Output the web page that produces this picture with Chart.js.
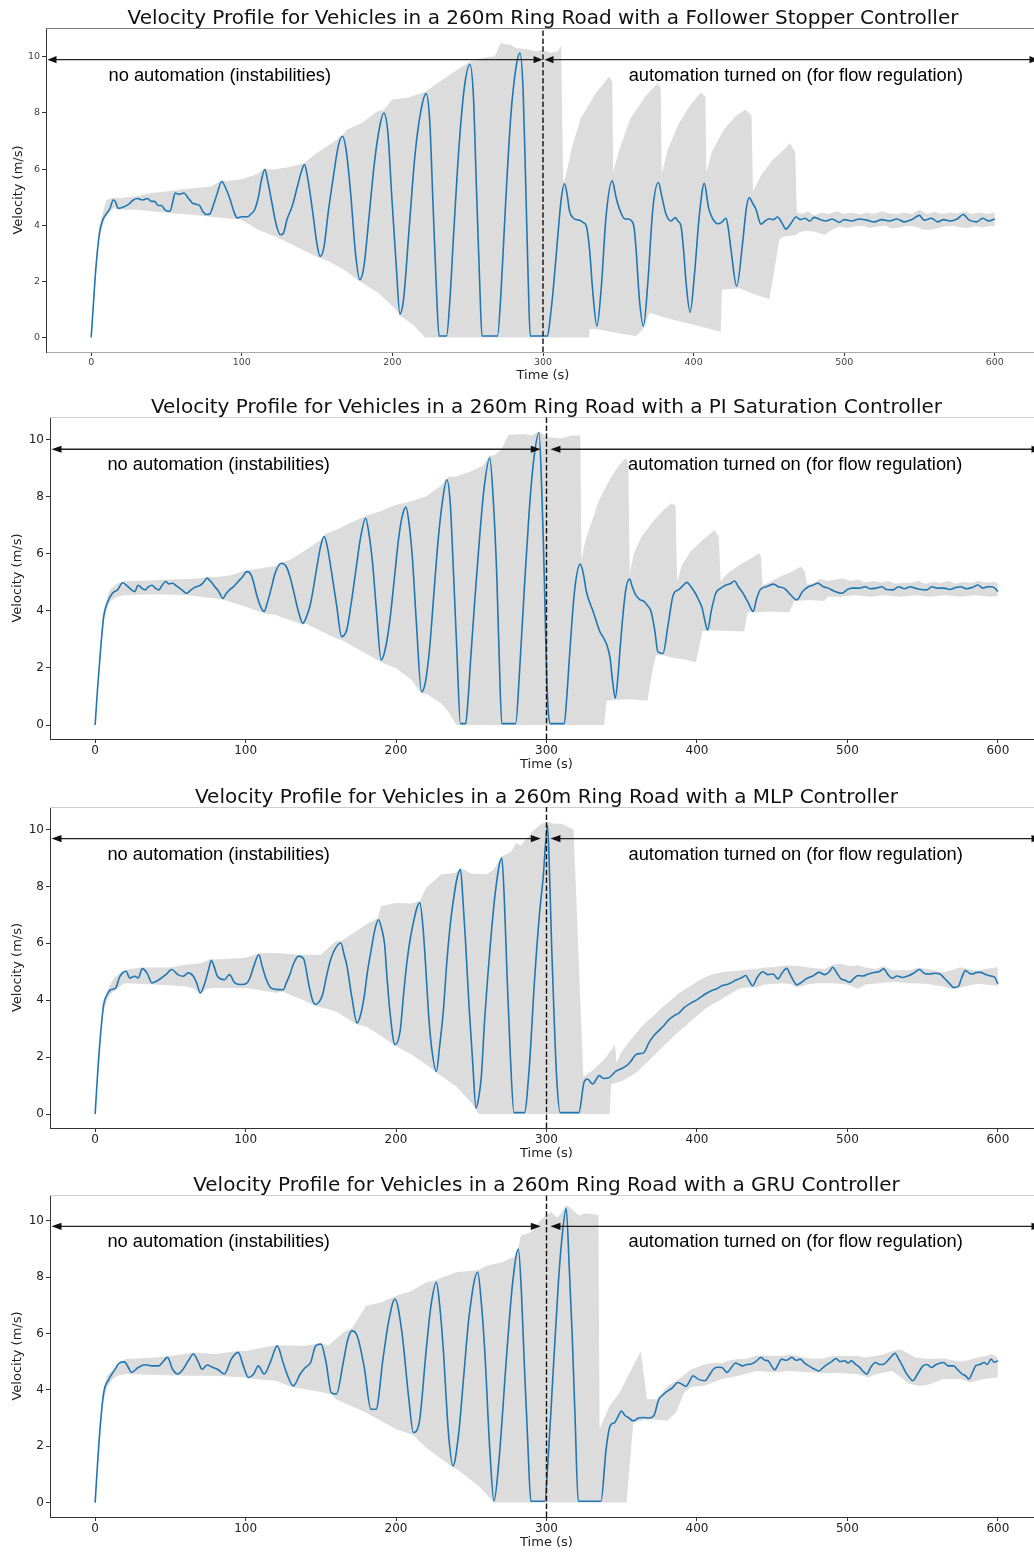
<!DOCTYPE html>
<html><head><meta charset="utf-8">
<script src="https://cdn.jsdelivr.net/npm/chart.js"></script>
<style>
html,body{margin:0;padding:0;background:#fff;width:1034px;height:1552px;overflow:hidden;position:relative;}
canvas{position:absolute;left:0;}
</style></head><body>
<canvas id="c1" width="1050" height="389" style="top:0px;width:1050px;height:389px"></canvas>
<canvas id="c2" width="1050" height="389" style="top:389px;width:1050px;height:389px"></canvas>
<canvas id="c3" width="1050" height="389" style="top:778px;width:1050px;height:389px"></canvas>
<canvas id="c4" width="1050" height="386" style="top:1166px;width:1050px;height:386px"></canvas>
<script>
const xTicks=[0,100,200,300,400,500,600];
const yTicks=[0,2,4,6,8,10];
const titles=[
"Velocity Profile for Vehicles in a 260m Ring Road with a Follower Stopper Controller",
"Velocity Profile for Vehicles in a 260m Ring Road with a PI Saturation Controller",
"Velocity Profile for Vehicles in a 260m Ring Road with a MLP Controller",
"Velocity Profile for Vehicles in a 260m Ring Road with a GRU Controller"];
const noAutoLabel="no automation (instabilities)";
const autoLabel="automation turned on (for flow regulation)";
const xLabel="Time (s)";
const yLabel="Velocity (m/s)";

// ---- Follower Stopper ----
const fsMean=[[0,0],[1.5,1.2],[3,2.4],[5.5,3.7],[7.8,4.2],[10,4.4],[12.5,4.6],[14.6,4.9],[16,4.85],[18,4.6],[21.5,4.65],[25,4.75],[28,4.9],[30.7,4.95],[34,4.9],[37.5,4.95],[40,4.85],[42,4.85],[44.5,4.7],[46.7,4.7],[49,4.55],[52.4,4.5],[54,4.8],[55.8,5.15],[58,5.1],[61.6,5.15],[64,5.0],[67,4.8],[69.5,4.75],[72,4.7],[74,4.5],[76.4,4.38],[78.7,4.4],[81,4.7],[83.5,5.1],[86.7,5.56],[89.5,5.3],[92.4,4.9],[95,4.45],[97,4.26],[100,4.3],[103.9,4.3],[106,4.4],[108.5,4.55],[111,5.0],[113,5.6],[115.3,5.98],[117.5,5.5],[120,4.8],[122.5,4.1],[125.6,3.66],[127.5,3.7],[130,4.2],[133.6,4.7],[137,5.4],[139.5,5.9],[141.6,6.16],[144,5.6],[147,4.5],[150,3.3],[152,2.89],[154.5,3.2],[157.5,4.5],[161,5.8],[164,6.8],[166.8,7.17],[169.5,6.6],[172.5,5.0],[175.5,3.0],[178.3,2.06],[181,2.5],[184.5,4.3],[188,6.2],[191.5,7.5],[194.3,8.0],[197,7.3],[199.6,5.0],[202.5,2.6],[205,0.83],[207.5,1.4],[211,3.8],[215,6.5],[219,8.1],[222.4,8.69],[224.8,7.7],[226.8,5.0],[229,2.0],[231,0.05],[236,0.05],[238,1.2],[241,4.0],[244.5,7.0],[248,9.0],[251.5,9.73],[253.8,8.6],[255.7,5.5],[257.8,2.2],[259.5,0.05],[269.8,0.05],[272,1.5],[275,4.6],[278.5,7.8],[282,9.6],[284.7,10.14],[286.8,8.8],[288.5,5.5],[290.2,2.0],[291.5,0.05],[303,0.05],[304.8,0.7],[306.6,1.6],[309.5,3.4],[312.1,4.93],[314.3,5.48],[316,5.1],[317.6,4.51],[319.8,4.27],[322,4.2],[324.3,4.18],[326.5,4.1],[328.7,3.98],[330.9,3.14],[333.1,1.6],[335.8,0.4],[338.6,1.71],[341.9,4.33],[345.9,5.58],[348.5,5.0],[350.8,4.57],[354.1,4.23],[356,4.22],[358.5,4.17],[360.5,3.9],[361.8,3.14],[364,1.36],[366.7,0.4],[369.6,1.95],[372.9,4.57],[376.6,5.52],[379,5.0],[381.7,4.39],[385,4.15],[387.9,4.27],[389.5,4.15],[391.6,3.98],[393.5,3.0],[395,1.95],[397.7,0.9],[400.5,2.2],[403.8,4.35],[407.1,5.49],[410,4.6],[412.7,4.23],[416,4.05],[418.5,4.1],[421.5,4.25],[423,3.9],[424.8,3.14],[428.6,1.83],[432.6,3.4],[435,4.6],[437,4.99],[439,4.8],[441.4,4.57],[444.7,4.04],[447.5,4.15],[450.2,4.23],[453,4.2],[455.7,4.29],[458.5,4.1],[461.3,3.86],[464.5,4.05],[467.9,4.29],[471,4.2],[474,4.25],[477,4.15],[480,4.28],[484,4.2],[488,4.15],[492,4.22],[496.7,4.1],[500,4.2],[505,4.15],[510,4.22],[515,4.18],[520,4.12],[525,4.2],[530,4.15],[535,4.22],[540,4.12],[545,4.2],[550,4.35],[553,4.18],[558,4.25],[562,4.12],[566,4.2],[570,4.15],[575,4.22],[579,4.38],[583,4.18],[588,4.12],[592,4.25],[596,4.15],[600,4.22]];
const fsUpper=[[0,0],[5,3.9],[8,4.5],[10,4.9],[14,4.97],[20,4.97],[30,5.03],[40,5.15],[50,5.2],[60,5.27],[70,5.33],[80,5.39],[87,5.6],[90,5.58],[100,5.64],[110,5.82],[115,6.02],[120,5.98],[130,6.06],[141,6.2],[150,6.58],[160,6.93],[167,7.22],[170,7.41],[180,7.65],[190,8.06],[194,8.1],[200,8.48],[210,8.54],[222,8.76],[230,9.07],[240,9.43],[251,9.82],[260,9.96],[268,10.02],[272,10.5],[275,10.45],[278,10.44],[282,10.32],[285,10.3],[290,10.26],[295,10.2],[300,10.25],[305,10.15],[310,10.2],[312,10.4],[313.4,5.6],[314.3,5.55],[318.8,6.7],[325,7.8],[335,8.7],[344,9.3],[346,9.1],[346.6,5.9],[350.7,6.7],[358,7.8],[368,8.6],[376,9.05],[378.2,8.9],[378.8,5.83],[382.8,6.7],[390,7.6],[398,8.3],[404.7,8.72],[407.8,8.6],[408.5,5.9],[412,6.6],[420,7.4],[428,7.9],[434.5,8.12],[438.5,7.9],[439.4,5.2],[445,5.8],[452,6.3],[460,6.7],[464,6.93],[467.5,6.6],[468.5,4.45],[472,4.4],[476,4.5],[480,4.35],[485,4.45],[490,4.4],[495,4.5],[500,4.4],[505,4.45],[510,4.38],[515,4.45],[520,4.4],[525,4.5],[530,4.42],[535,4.4],[540,4.45],[545,4.4],[550,4.55],[555,4.4],[560,4.48],[565,4.4],[570,4.45],[575,4.42],[580,4.5],[585,4.4],[590,4.45],[595,4.4],[600,4.45]];
const fsLower=[[0,0],[5,3.5],[8,4.1],[10,4.3],[14.6,4.6],[20,4.55],[30.7,4.55],[40,4.5],[53.5,4.43],[65,4.38],[76.4,4.32],[90,4.25],[99.3,4.2],[110.8,3.84],[122.2,3.6],[133.6,3.3],[145,3.0],[152,2.82],[156.5,2.74],[168,2.41],[178.3,2.0],[190.8,1.58],[202.3,0.99],[205,0.78],[213.7,0.45],[221.7,0],[330.5,0],[331.2,0.3],[335,0.3],[345,0.2],[355,0.1],[362,0.05],[366.5,0.3],[370.7,0.88],[385,0.65],[400,0.45],[418,0.2],[418.8,1.7],[430.4,1.75],[440,1.55],[450.3,1.36],[453,2.2],[456.9,3.5],[460,3.6],[468,3.65],[470,3.75],[475,3.8],[480,3.78],[487,3.65],[492,3.85],[497,3.95],[502,3.9],[507,3.95],[512,3.98],[517,3.9],[522,3.95],[527,3.98],[532,3.88],[537,3.92],[542,3.98],[547,3.95],[552,3.85],[557,3.84],[562,3.9],[567,3.95],[572,3.98],[577,3.92],[582,3.9],[587,3.96],[592,3.92],[597,3.98],[600,3.95]];

// ---- PI Saturation ----
const piMean=[[0,0],[1.5,1.2],[3.4,2.5],[5.7,3.8],[8,4.27],[11.5,4.62],[14.9,4.74],[18.3,4.99],[21.8,4.85],[24,4.75],[26.3,4.68],[28.6,4.9],[31,4.8],[33.2,4.74],[35.5,4.85],[37.8,4.9],[40,4.8],[42.4,4.74],[44.5,4.9],[47,5.03],[49,4.95],[51.5,4.97],[54,4.88],[56.1,4.8],[58.5,4.7],[60.7,4.62],[63,4.7],[65.3,4.8],[67.5,4.85],[69.9,4.9],[72,5.0],[74.5,5.15],[76,5.08],[77.9,4.97],[79.5,4.85],[81.3,4.74],[83,4.6],[84.8,4.44],[87,4.6],[89.3,4.74],[92,4.85],[95.1,5.03],[98,5.2],[100.8,5.38],[102.5,5.35],[104.2,5.2],[107.7,4.5],[110,4.15],[112.3,3.98],[114.5,4.3],[116.8,4.74],[119.5,5.3],[123.7,5.67],[127.1,5.55],[129.5,5.2],[131.7,4.74],[135,4.0],[138.1,3.57],[140.5,3.8],[143.2,4.27],[147.8,5.67],[150,6.3],[152.3,6.61],[154.5,6.2],[156.9,5.44],[160.5,4.2],[163.8,3.1],[167.2,3.33],[170,4.2],[173,5.32],[176.5,6.6],[179.8,7.25],[182,6.7],[184.4,5.67],[187,4.0],[190.1,2.28],[193,2.7],[195.9,3.68],[199,5.2],[201.6,6.49],[204,7.3],[206.6,7.64],[208.8,7.0],[210.8,5.9],[213.5,3.6],[216.9,1.17],[219.5,1.5],[222.2,2.63],[225,4.5],[228,6.49],[231,7.9],[233.7,8.6],[236,7.8],[238.3,5.2],[240.5,2.5],[242.8,0.05],[246.3,0.05],[248,1.0],[249.7,2.4],[252.5,4.5],[255.4,6.49],[258.5,8.3],[262.3,9.36],[264.5,8.0],[266.9,5.32],[268.5,2.5],[270.3,0.05],[279.5,0.05],[282,1.8],[285.2,4.74],[288.5,7.5],[291.5,9.3],[295,10.25],[297,8.0],[298.2,5.85],[300.5,1.17],[302.7,0.05],[311.8,0.05],[313.5,1.0],[315.2,2.34],[318.6,4.68],[322.4,5.64],[324.5,5.3],[326.5,4.68],[331,3.98],[335.5,3.27],[338,3.05],[340.1,2.81],[342.3,2.34],[344,1.5],[345.7,0.94],[347.5,1.7],[349.1,2.81],[352.5,4.68],[355.2,5.12],[357,4.85],[359.3,4.56],[362,4.4],[365,4.33],[367,4.2],[369.5,3.98],[372,3.3],[374,2.57],[377.4,2.51],[380.8,3.51],[384.2,4.56],[387.6,4.74],[390,4.85],[393.3,5.0],[396,4.85],[398.9,4.62],[401,4.4],[403.5,4.09],[405.5,3.6],[407.1,3.33],[409.5,4.0],[412.5,4.62],[416,4.8],[419.3,4.91],[422,4.95],[425,5.05],[427.5,4.85],[430.6,4.62],[434,4.3],[437.4,3.98],[439.5,4.4],[442,4.74],[446,4.85],[451,4.94],[454,4.85],[457.8,4.8],[460,4.7],[462.3,4.56],[466.4,4.39],[470.2,4.68],[474,4.85],[477,4.9],[480.4,4.97],[484,4.85],[487.2,4.8],[491,4.7],[496.3,4.62],[500,4.75],[503,4.8],[507.6,4.8],[512,4.85],[515,4.78],[518.9,4.8],[523,4.85],[526,4.75],[530.2,4.74],[534,4.85],[538,4.78],[541.6,4.85],[545,4.8],[549,4.75],[552.9,4.74],[556,4.85],[560,4.8],[564.2,4.8],[568,4.75],[572,4.82],[575.5,4.85],[579,4.78],[583,4.82],[586.8,4.91],[590,4.8],[593,4.85],[595.9,4.85],[598,4.8],[600,4.68]];
const piUpper=[[0,0],[5,3.9],[8,4.5],[10,4.74],[15,4.97],[20,5.05],[30,5.06],[40,5.08],[50,5.1],[60,5.12],[70,5.15],[75,5.2],[80,5.18],[90,5.25],[100,5.42],[110,5.5],[120,5.58],[125,5.72],[130,5.8],[140,6.14],[150,6.5],[153,6.7],[160,6.84],[170,7.1],[180,7.33],[190,7.5],[200,7.72],[207,7.8],[210,7.85],[220,8.01],[230,8.4],[235,8.7],[240,8.71],[250,8.9],[258,9.1],[262,9.45],[265,9.45],[270,9.65],[273,10.0],[275,10.18],[285,10.2],[290,10.15],[295,10.3],[300,10.1],[310,10.05],[316,10.15],[322.5,10.15],[323.2,5.8],[326,6.5],[329,6.96],[335,7.9],[342,8.6],[348,9.1],[352.5,9.36],[354.4,9.2],[355.3,5.3],[358,6.0],[363,6.6],[371.6,7.19],[378,7.55],[383,7.78],[385.8,7.7],[386.8,5.03],[390,5.6],[396,6.1],[404,6.5],[411.7,6.84],[414.5,6.6],[415.8,5.03],[420,5.3],[428,5.6],[436,5.85],[441.4,6.02],[442.6,5.9],[443.6,4.9],[448,5.0],[455,5.2],[462,5.35],[469.1,5.56],[471.5,5.4],[473.4,4.92],[478,5.0],[482,5.12],[487,5.05],[492,5.1],[497,5.15],[502,5.05],[507,5.1],[512,5.0],[517,5.05],[522,5.0],[527,5.05],[532,4.95],[537,5.0],[542,4.98],[547,5.05],[552,4.95],[557,5.02],[562,4.98],[567,5.05],[572,4.95],[577,5.02],[582,4.98],[587,5.05],[592,5.0],[597,5.02],[600,4.98]];
const piLower=[[0,0],[5,3.5],[8,4.1],[10,4.35],[15,4.5],[20,4.56],[40,4.58],[60,4.56],[80,4.44],[84.8,4.4],[100,4.15],[112,3.92],[120,3.86],[138,3.52],[140,3.55],[150,3.3],[160,3.04],[164,2.98],[170,2.8],[180,2.51],[190,2.2],[200,1.99],[210,1.6],[217,1.1],[220,1.1],[230,0.76],[235,0.45],[240,0],[338.3,0],[340,0.85],[345,0.88],[355,0.9],[367.1,0.85],[370,1.8],[372.7,2.45],[377,2.45],[385,2.35],[392,2.3],[399.3,2.2],[403.7,3.3],[410,3.32],[420,3.3],[431.4,3.28],[433.6,3.95],[440,3.95],[450,3.98],[461.3,3.95],[464.7,4.35],[475,4.38],[484.6,4.35],[487,4.5],[495,4.5],[505,4.55],[515,4.5],[525,4.55],[535,4.5],[545,4.55],[555,4.5],[565,4.55],[575,4.5],[585,4.55],[595,4.5],[600,4.52]];

// ---- MLP ----
const mlpMean=[[0,0],[1.5,1.3],[3.4,2.67],[5.7,3.85],[8,4.2],[10.3,4.37],[13.7,4.43],[16,4.78],[18.3,4.96],[20.6,5.02],[22.9,4.78],[26.3,4.84],[28.6,4.78],[31.4,5.11],[34.4,4.96],[37.8,4.61],[42.4,4.72],[47,4.9],[50.9,5.08],[55,4.9],[58.4,4.84],[61.9,4.96],[65.3,4.84],[67.5,4.6],[69.9,4.26],[73.3,4.67],[75.5,5.1],[77.2,5.39],[79,5.2],[81.3,4.84],[85.9,4.72],[89.3,4.9],[92.8,4.61],[97.4,4.55],[100.8,4.6],[103,4.8],[105.4,5.19],[108.8,5.6],[111,5.2],[113.4,4.78],[116.8,4.43],[120.3,4.38],[124.9,4.37],[127,4.6],[129.4,4.9],[132,5.3],[135.2,5.55],[138.6,5.45],[142,4.55],[144.5,4.0],[146.6,3.85],[149,3.95],[151.2,4.2],[154,4.9],[156.9,5.49],[160,5.85],[163.3,6.01],[165.5,5.6],[167.2,5.25],[170.7,4.08],[174.1,3.2],[176.5,3.5],[178.7,4.08],[181,5.0],[183.3,5.72],[186,6.5],[188.3,6.83],[190.5,6.5],[192.4,5.96],[194,4.8],[195.9,3.61],[199.3,2.44],[202.7,2.91],[205,4.2],[207.3,5.37],[211,6.6],[215.8,7.42],[218,6.5],[219.9,5.02],[221.5,3.6],[223.4,2.44],[226.8,1.5],[229,2.4],[231.4,3.61],[234,5.5],[237.1,7.13],[242.8,8.59],[244.5,7.5],[246.3,5.96],[248.5,3.8],[250.9,1.85],[253.2,0.21],[255,0.6],[256.6,1.27],[259,3.4],[262.3,5.72],[266,7.8],[270.3,9.0],[272,7.5],[273.7,5.0],[276,2.0],[278.4,0.05],[285.3,0.05],[288.5,1.6],[292.1,4.75],[295.5,7.13],[297.7,8.26],[300.7,10.14],[302,8.5],[303.4,5.92],[305,3.5],[306.8,1.23],[309.1,0.05],[321.5,0.05],[324.9,1.11],[327.2,1.23],[330.6,1.06],[335.1,1.35],[338,1.25],[341.9,1.29],[344,1.4],[346.4,1.52],[350,1.6],[353.2,1.7],[356,1.85],[360,2.11],[364.5,2.15],[368,2.5],[371.3,2.75],[375,2.95],[378.1,3.11],[381,3.3],[384.9,3.46],[388,3.55],[391.7,3.75],[396,3.9],[400.7,4.04],[405,4.2],[409.8,4.34],[413,4.4],[416.6,4.51],[420,4.55],[423.4,4.63],[425.5,4.7],[427.9,4.75],[430,4.8],[432.4,4.87],[434.5,4.7],[437,4.51],[440,4.8],[443.8,5.0],[447,4.9],[450.6,4.92],[453.9,4.75],[456.5,4.95],[459.6,5.12],[462,4.9],[464,4.7],[466.4,4.54],[470,4.65],[473.2,4.77],[477,4.85],[481.1,4.98],[485,4.9],[488,5.0],[490.2,5.16],[493,4.95],[495.8,4.75],[498.5,4.7],[501.5,4.63],[504,4.75],[507.2,4.87],[510,4.85],[513.9,4.92],[518.5,4.98],[521,5.0],[524.1,5.1],[527,4.9],[529.8,4.77],[533,4.85],[536.6,4.8],[541.1,4.87],[544,4.95],[547.9,5.08],[551,4.95],[554.7,4.92],[558,4.95],[561.5,4.92],[564,4.8],[566,4.69],[568.5,4.55],[570.5,4.45],[573.9,4.5],[576,4.8],[578.5,5.04],[581,4.95],[583,4.92],[586,4.98],[588.7,4.98],[592,4.9],[595.4,4.85],[598,4.8],[600,4.57]];
const mlpUpper=[[0,0],[5,3.9],[8,4.35],[12.6,4.78],[17.2,4.98],[20,5.06],[30,5.15],[50,5.15],[60,5.25],[70,5.3],[77,5.45],[80,5.43],[100,5.49],[109,5.65],[120,5.66],[135,5.6],[140,5.6],[150,5.6],[160,6.07],[164,6.1],[170,6.3],[180,6.66],[185,6.8],[188,6.9],[190,7.3],[200,7.42],[210,7.4],[216,7.5],[220,7.95],[230,8.42],[240,8.48],[243,8.65],[250,8.45],[260,8.42],[265,8.6],[270,9.05],[276.2,9.2],[280,9.53],[283,9.44],[290,9.9],[296.6,10.2],[301,10.26],[305,10.2],[310.2,10.2],[314,10.1],[318,10.0],[324.5,1.3],[330,1.5],[338,1.9],[344,2.3],[345.5,2.45],[346.5,1.8],[350,2.2],[355,2.55],[360,2.87],[365.5,3.2],[371.3,3.46],[377,3.75],[382.6,3.99],[388,4.25],[394,4.45],[400,4.65],[405.3,4.81],[410,4.9],[416.6,4.98],[422,5.02],[427.9,5.04],[433,5.08],[439.2,5.1],[445,5.15],[450.6,5.16],[456,5.2],[461.9,5.22],[467,5.2],[473.2,5.16],[478,5.12],[484.5,5.1],[490,5.25],[495.8,5.28],[501,5.2],[507.2,5.22],[512,5.15],[518.5,5.1],[524,5.2],[529.8,5.05],[535,5.05],[541.1,5.05],[547,5.15],[552.5,5.1],[558,5.05],[563.8,4.98],[569,5.05],[575.1,5.16],[580,5.1],[586.4,5.04],[592,5.1],[600,5.16]];
const mlpLower=[[0,0],[5,3.5],[8,4.0],[10,4.2],[12,4.3],[15,4.4],[18,4.55],[20,4.6],[40,4.55],[60,4.49],[66,4.4],[69.9,4.2],[74,4.4],[80,4.43],[100,4.43],[120,4.26],[124.9,4.3],[140,3.96],[146.6,3.8],[160,3.61],[174,3.15],[180,3.08],[190,2.75],[199.3,2.4],[210,2.1],[220,1.74],[226.8,1.45],[230,1.35],[240,0.97],[250,0.4],[253.2,0.15],[255,0],[341.9,0],[343,1.05],[350,1.15],[355,1.3],[360,1.47],[365.5,1.75],[371.3,2.05],[377,2.35],[382.6,2.64],[388,2.9],[394,3.17],[400,3.45],[405.3,3.69],[410,3.85],[416.6,4.04],[422,4.22],[427.9,4.4],[433,4.45],[439.2,4.45],[445,4.55],[450.6,4.57],[456,4.6],[461.9,4.57],[466.4,4.45],[473.2,4.55],[480,4.6],[490,4.6],[500,4.55],[507.2,4.4],[512,4.55],[518.5,4.58],[529.8,4.65],[541.1,4.6],[552.5,4.58],[563.8,4.48],[570.5,4.38],[575,4.45],[586.4,4.58],[600,4.51]];

// ---- GRU ----
const gruMean=[[0,0],[1.5,1.3],[3.4,2.72],[5.7,3.9],[9.2,4.38],[12.6,4.67],[16,4.95],[19.5,4.99],[22,4.8],[24.1,4.62],[28.6,4.79],[33.2,4.89],[37.8,4.85],[42.4,4.85],[44.7,4.97],[48.1,5.15],[51.5,4.73],[55,4.56],[58.4,4.73],[61.9,5.03],[65.3,5.27],[68.7,4.97],[71,4.73],[74.5,4.88],[77.9,4.8],[81.3,4.73],[85.9,4.56],[90.5,5.09],[95.1,5.33],[98.5,4.85],[101.9,4.44],[105.4,4.56],[108.4,4.85],[112.3,4.56],[116.8,5.03],[121,5.56],[124.9,4.97],[127.1,4.62],[131.7,4.14],[136.3,4.56],[139.7,4.79],[143.2,4.97],[146.6,5.56],[150.1,5.62],[153.5,4.97],[156.9,3.9],[160.4,3.85],[164.9,4.97],[168,5.8],[170.7,6.09],[174.1,5.92],[178.7,4.85],[183.3,3.31],[186.7,3.31],[191.3,5.09],[195,6.4],[199.3,7.22],[203.9,6.04],[208.5,3.67],[211.5,2.49],[215.4,2.84],[219.9,5.33],[223,6.9],[226.8,7.81],[229,7.0],[231.4,5.44],[234.8,2.49],[237.8,1.3],[241.7,2.49],[245,4.5],[248.6,6.63],[254.3,8.17],[256.5,7.2],[258.9,5.44],[262.3,1.89],[265.1,0.06],[268.1,1.3],[273.8,5.44],[277.5,7.8],[281.3,8.99],[283.3,7.5],[285.3,4.85],[287.5,2.2],[289.6,0.05],[298.9,0.05],[301,1.5],[303.4,3.67],[307.9,7.81],[310.5,9.5],[313.1,10.44],[315,8.5],[317,6.04],[319,3.0],[321.1,0.05],[336.2,0.05],[339.6,1.89],[342.3,2.72],[345.3,2.84],[347.5,3.05],[349.8,3.25],[352,3.1],[354.3,3.02],[357.7,2.9],[361,3.0],[364.5,3.02],[368,3.0],[371.3,3.08],[374.7,3.67],[377,3.8],[379.2,3.91],[383.8,4.08],[387.2,4.26],[390,4.2],[392.8,4.12],[395,4.3],[397.4,4.5],[400.7,4.38],[405.3,4.32],[408,4.5],[410.9,4.73],[413.5,4.8],[416.6,4.79],[420,4.62],[423,4.8],[425.6,4.95],[428,4.9],[430.2,4.85],[433,4.9],[435.8,4.91],[439,5.0],[442.6,5.15],[445,5.05],[447.2,5.03],[449.5,4.85],[451.7,4.71],[454,4.9],[456.2,5.09],[459.5,5.05],[463,5.15],[466,5.05],[468.7,5.09],[471.5,4.95],[474.3,4.85],[477.5,4.75],[481.1,4.67],[484,4.8],[486.8,4.91],[489.5,5.0],[492.4,5.11],[495,5.0],[498.1,5.03],[500.5,4.95],[502.6,5.03],[505.5,4.9],[508.3,4.79],[510.5,4.65],[512.8,4.56],[515.5,4.8],[518.5,4.97],[521.5,4.9],[524.1,4.91],[527,5.05],[529.5,5.2],[531.6,5.3],[534,5.1],[536.6,4.85],[539,4.6],[541,4.45],[543.4,4.32],[546.5,4.55],[550.2,4.85],[553,4.9],[555.8,4.79],[559,4.9],[563.8,4.97],[567,4.85],[570.5,4.85],[573.5,4.7],[576.2,4.56],[578.5,4.5],[580.7,4.38],[583,4.6],[585.2,4.85],[588,4.9],[590.9,4.97],[593,4.9],[595.5,5.09],[597.5,4.98],[600,5.03]];
const gruUpper=[[0,0],[5,3.9],[8,4.5],[12,4.75],[15,4.85],[20,5.09],[40,5.15],[50,5.2],[60,5.27],[65,5.32],[80,5.27],[95,5.38],[100,5.38],[120,5.58],[140,5.56],[150,5.66],[155,5.56],[160,5.8],[165,6.04],[171,6.2],[180,6.98],[190,7.1],[200,7.34],[210,7.5],[220,7.81],[227,7.9],[240,8.17],[255,8.25],[260,8.4],[270,8.52],[280,8.76],[283,9.47],[289.8,9.59],[296.6,10.06],[300,10.2],[303.4,10.3],[307,10.1],[310.2,10.3],[313,10.55],[314.7,10.5],[321.5,10.18],[326,10.25],[330.6,10.24],[334.5,10.2],[335.3,2.6],[341.9,3.43],[348.7,3.91],[355.5,4.62],[362.7,5.38],[366.8,3.67],[373.6,3.67],[380.4,4.14],[389.4,4.44],[396.2,4.73],[405.3,4.91],[410,4.95],[416.6,4.95],[422,5.05],[427.9,5.09],[433,5.1],[439.2,5.2],[445,5.22],[450.6,5.21],[456,5.2],[461.9,5.25],[467,5.2],[473.2,5.12],[478,5.1],[484.5,5.12],[490,5.2],[495.8,5.2],[501,5.2],[507.2,5.2],[512,5.15],[518.5,5.2],[524,5.25],[529.8,5.38],[535.4,5.44],[540,5.3],[545,5.15],[552.4,5.1],[558,5.1],[563.8,5.12],[570,5.05],[575,5.0],[580,5.05],[586.4,5.15],[592,5.2],[596,5.27],[600,5.15]];
const gruLower=[[0,0],[5,3.5],[8,4.1],[12,4.4],[15,4.5],[20,4.56],[40,4.53],[60,4.5],[80,4.5],[100,4.44],[101.9,4.4],[120,4.32],[131.7,4.08],[140,4.02],[156.9,3.85],[160,3.67],[180,3.2],[183.3,3.1],[200,2.6],[211.5,2.4],[220,1.95],[237.8,1.25],[240,1.2],[255,0.59],[265,0],[353.2,0],[357.7,2.84],[365,2.95],[371.3,2.95],[380.4,2.9],[386,3.2],[391.7,3.91],[396,4.1],[405.3,4.15],[416.6,4.38],[427.9,4.5],[439.2,4.67],[450.6,4.62],[461.9,4.67],[473.2,4.62],[484.5,4.6],[495.8,4.6],[507.2,4.55],[513.9,4.44],[518.5,4.55],[529.8,4.67],[541.1,4.22],[547.9,4.14],[554.7,4.2],[563.8,4.38],[575.1,4.38],[581.8,4.26],[590,4.38],[600,4.44]];

function drawArrow(ctx, x1, x2, y, head, hw){
  ctx.beginPath(); ctx.moveTo(x1+head*0.6, y); ctx.lineTo(x2-head*0.6, y); ctx.stroke();
  ctx.beginPath(); ctx.moveTo(x1, y); ctx.lineTo(x1+head, y-hw); ctx.lineTo(x1+head, y+hw); ctx.closePath(); ctx.fill();
  ctx.beginPath(); ctx.moveTo(x2, y); ctx.lineTo(x2-head, y-hw); ctx.lineTo(x2-head, y+hw); ctx.closePath(); ctx.fill();
}

const overlayPlugin = {
  id: 'overlay',
  afterDraw(chart, args, o){
    const ctx = chart.ctx, a = chart.chartArea, xs = chart.scales.x, ys = chart.scales.y;
    ctx.save();
    ctx.strokeStyle = o.topSpine; ctx.lineWidth = 1;
    ctx.beginPath(); ctx.moveTo(a.left, Math.round(a.top)+0.5); ctx.lineTo(a.right, Math.round(a.top)+0.5); ctx.stroke();
    const xd = xs.getPixelForValue(300);
    ctx.strokeStyle = '#111'; ctx.lineWidth = 1.4; ctx.setLineDash([5.5, 2.4]);
    ctx.beginPath(); ctx.moveTo(xd, a.bottom); ctx.lineTo(xd, a.top); ctx.stroke();
    ctx.setLineDash([]);
    const ay = ys.getPixelForValue(o.arrowY);
    ctx.strokeStyle = '#222'; ctx.fillStyle = '#111'; ctx.lineWidth = 1.3;
    drawArrow(ctx, xs.getPixelForValue(-29), xs.getPixelForValue(o.leftTip), ay, o.head, 3.6);
    drawArrow(ctx, xs.getPixelForValue(o.rightTip), xs.getPixelForValue(629), ay, o.head, 3.6);
    ctx.fillStyle = '#000';
    ctx.font = '18.3px "Liberation Sans", Arial, sans-serif';
    ctx.textAlign = 'left'; ctx.textBaseline = 'alphabetic';
    ctx.fillText(noAutoLabel, o.textX1, ay + 21);
    ctx.fillText(autoLabel, o.textX2, ay + 21);
    ctx.font = '20px "DejaVu Sans"';
    ctx.textAlign = 'center';
    ctx.fillStyle = '#111';
    ctx.fillText(o.title, (a.left + a.right)/2, o.titleBase);
    ctx.font = '13px "DejaVu Sans"';
    ctx.fillStyle = '#222';
    ctx.textBaseline = 'middle';
    ctx.fillText(xLabel, (a.left + a.right)/2, o.xLabelY);
    ctx.translate(o.yLabelX, (a.top + a.bottom)/2);
    ctx.rotate(-Math.PI/2);
    ctx.fillText(yLabel, 0, 0);
    ctx.restore();
  }
};

function makeChart(id, c){
  return new Chart(document.getElementById(id), {
    type: 'line',
    data: { datasets: [
      {data: c.upper, fill: 1, backgroundColor: '#dcdcdc', borderColor: 'rgba(0,0,0,0)', borderWidth: 0, pointRadius: 0, tension: 0, order: 2},
      {data: c.lower, fill: false, borderColor: 'rgba(0,0,0,0)', borderWidth: 0, pointRadius: 0, tension: 0, order: 2},
      {data: c.mean, fill: false, borderColor: '#1f77b4', borderWidth: 1.6, pointRadius: 0, cubicInterpolationMode: 'monotone', order: 1}
    ]},
    options: {
      responsive: false, animation: false, devicePixelRatio: 1,
      events: [],
      layout: {padding: {top: c.top, right: 1050 - c.right, left: 0, bottom: 0}},
      plugins: {legend: {display: false}, tooltip: {enabled: false}, title: {display: false}, overlay: c.ov},
      scales: {
        x: {
          type: 'linear', min: -30, max: 630,
          afterBuildTicks: s => { s.ticks = xTicks.map(v => ({value: v})); },
          afterFit: s => { s.height = c.height - c.bottom; },
          grid: {display: true, drawOnChartArea: false, drawTicks: true, tickLength: 4, color: '#333', lineWidth: 1},
          border: {display: true, color: c.bottomSpine, width: 1},
          ticks: {font: {family: 'DejaVu Sans', size: c.tickSize}, color: c.tickColor, padding: 1, maxRotation: 0, autoSkip: false}
        },
        y: {
          type: 'linear', min: c.ymin, max: c.ymax,
          afterBuildTicks: s => { s.ticks = yTicks.map(v => ({value: v})); },
          afterFit: s => { s.width = c.left; },
          grid: {display: true, drawOnChartArea: false, drawTicks: true, tickLength: 4, color: '#333', lineWidth: 1},
          border: {display: true, color: '#333', width: 1},
          ticks: {font: {family: 'DejaVu Sans', size: c.tickSize}, color: c.tickColor, padding: 2, autoSkip: false}
        }
      }
    },
    plugins: [overlayPlugin]
  });
}

makeChart('c1', {mean: fsMean, upper: fsUpper, lower: fsLower, height: 389, top: 28, bottom: 352, left: 46, right: 1040,
  ymin: -0.52, ymax: 11.03, tickSize: 9.5, tickColor: '#444', bottomSpine: '#aaa',
  ov: {title: titles[0], titleBase: 24, arrowY: 9.9, leftTip: 299.7, rightTip: 301, head: 9, textX1: 108.5, textX2: 628.7, xLabelY: 376, yLabelX: 19, topSpine: '#777'}});
makeChart('c2', {mean: piMean, upper: piUpper, lower: piLower, height: 389, top: 28, bottom: 350, left: 50, right: 1043,
  ymin: -0.49, ymax: 10.8, tickSize: 12, tickColor: '#222', bottomSpine: '#333',
  ov: {title: titles[1], titleBase: 24.3, arrowY: 9.67, leftTip: 296.2, rightTip: 302.6, head: 10, textX1: 107.4, textX2: 628, xLabelY: 376, yLabelX: 18, topSpine: '#ccc'}});
makeChart('c3', {mean: mlpMean, upper: mlpUpper, lower: mlpLower, height: 389, top: 29, bottom: 350, left: 50, right: 1043,
  ymin: -0.49, ymax: 10.79, tickSize: 12, tickColor: '#222', bottomSpine: '#333',
  ov: {title: titles[2], titleBase: 25, arrowY: 9.68, leftTip: 296.2, rightTip: 302.6, head: 10, textX1: 107.4, textX2: 628.5, xLabelY: 375.5, yLabelX: 18, topSpine: '#ccc'}});
makeChart('c4', {mean: gruMean, upper: gruUpper, lower: gruLower, height: 386, top: 29, bottom: 351, left: 50, right: 1043,
  ymin: -0.51, ymax: 10.91, tickSize: 12, tickColor: '#222', bottomSpine: '#333',
  ov: {title: titles[3], titleBase: 25, arrowY: 9.8, leftTip: 296.2, rightTip: 302.6, head: 10, textX1: 107.4, textX2: 628.5, xLabelY: 376.5, yLabelX: 18, topSpine: '#ccc'}});
</script>
</body></html>
